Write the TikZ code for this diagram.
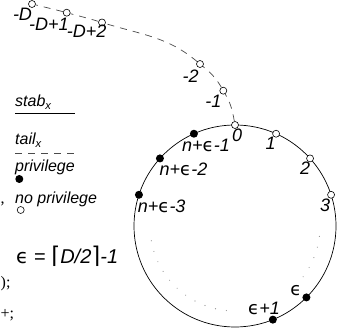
\documentclass[tikz,border=0pt]{standalone}
\usepackage{fontspec}
\setmainfont{Liberation Sans}
\newfontfamily\symfont{DejaVu Sans}
\newfontfamily\codefont{Liberation Serif}
\usepackage{tikz}
\definecolor{tailgray}{HTML}{4A4A4A}
\definecolor{dotgray}{HTML}{8C8C8C}
\newcommand{\epsy}{{\symfont\upshape ϵ}}

\begin{document}
\begin{tikzpicture}[x=1pt,y=1pt,
    free/.style={circle, draw, fill=white, inner sep=0pt, minimum size=7pt, line width=0.6pt},
    priv/.style={circle, fill=black, inner sep=0pt, minimum size=8pt},
    num/.style={font=\fontsize{18}{20}\selectfont\itshape, inner sep=0pt},
    key/.style={font=\fontsize{16}{18}\selectfont\itshape, inner sep=0pt, anchor=base west},
    tail/.style={tailgray, line width=0.7pt, dash pattern=on 7pt off 6pt},
    spare/.style={dotgray, line width=1.1pt, line cap=round, dash pattern=on 0pt off 11pt},
    frag/.style={font=\fontsize{16}{18}\selectfont\codefont, inner sep=0pt, anchor=base west}]
      \useasboundingbox (0,0) rectangle (339,334);
      % ring
      \coordinate (c) at (235,108);
      \draw[line width=0.7pt] (c) circle (101);
      \draw[spare] ([shift={(-7:85)}]c) arc (-7:-38:85);
      \draw[spare] ([shift={(190:85)}]c) arc (190:266:85);
      % stations on the ring
      \node[free] (v0) at ([shift={(90:101)}]c) {};
      \node[free] (v1) at ([shift={(66:101)}]c) {};
      \node[free] (v2) at ([shift={(42:101)}]c) {};
      \node[free] (v3) at ([shift={(18:101)}]c) {};
      \node[priv] (ve) at ([shift={(-45:101)}]c) {};
      \node[priv] (ve1) at ([shift={(-68:101)}]c) {};
      \node[priv] (n1) at ([shift={(114:101)}]c) {};
      \node[priv] (n2) at ([shift={(138:101)}]c) {};
      \node[priv] (n3) at ([shift={(162:101)}]c) {};
      % tail
      \node[free] (vm1) at (223.3,243.3) {};
      \node[free] (vm2) at (200,270) {};
      \node[free] (vmD2) at (102,311.5) {};
      \node[free] (vmD1) at (66.7,321.3) {};
      \node[free] (vmD) at (32,330) {};
      \draw[tail] (v0) to[out=100,in=-60] (vm1) to[out=120,in=-40] (vm2)
        to[out=140,in=-17] (vmD2) to[out=163,in=-15] (vmD1) to[out=165,in=-14] (vmD);
      % labels
      \node[num] (l0) at (237,199) {0};
      \node[num] (l1) at (270.7,190.7) {1};
      \node[num] (l2) at (305,165.7) {2};
      \node[num] (l3) at (325,129) {3};
      \node[num] (le) at (296,43.3) {\epsy};
      \node[num] (le1) at (264,25.7) {\epsy+1};
      \node[num] (ln1) at (206,188.3) {n+\epsy-1};
      \node[num] (ln2) at (183.5,164.7) {n+\epsy-2};
      \node[num] (ln3) at (161.7,128) {n+\epsy-3};
      \node[num] (lm1) at (213.3,232.3) {-1};
      \node[num] (lm2) at (190.7,257.3) {-2};
      \node[num] (lmD2) at (86.7,302.3) {-D+2};
      \node[num] (lmD1) at (49,310) {-D+1};
      \node[num] (lmD) at (22.5,320) {-D};
      % legend
      \node[key] (kstab) at (15,227) {stab\textsubscript{x}};
      \draw[line width=0.7pt] ([yshift=-6pt]kstab.base west) -- ++(60,0);
      \node[key] (ktail) at (15,189) {tail\textsubscript{x}};
      \draw[tail] ([yshift=-8.3pt]ktail.base west) -- ++(60,0);
      \node[key] (kpriv) at (15,162.3) {privilege};
      \node[priv] (dpriv) at (19.3,155) {};
      \node[key] (knopriv) at (15,130.7) {no privilege};
      \node[free] (dnopriv) at (20.7,124) {};
      \node[anchor=base west, inner sep=0pt, font=\fontsize{20}{22}\selectfont] (keq) at (16,70.7)
        {\epsy{} = {\fontsize{23}{25}\selectfont\symfont ⌈}\textit{D/2}{\fontsize{23}{25}\selectfont\symfont ⌉}\textit{-1}};
      % text at the left edge
      \node[frag] (f1) at (0.5,130) {,};
      \node[frag] (f2) at (0.5,47) {);};
      \node[frag] (f3) at (0.5,16) {+;};
    \end{tikzpicture}
\end{document}
